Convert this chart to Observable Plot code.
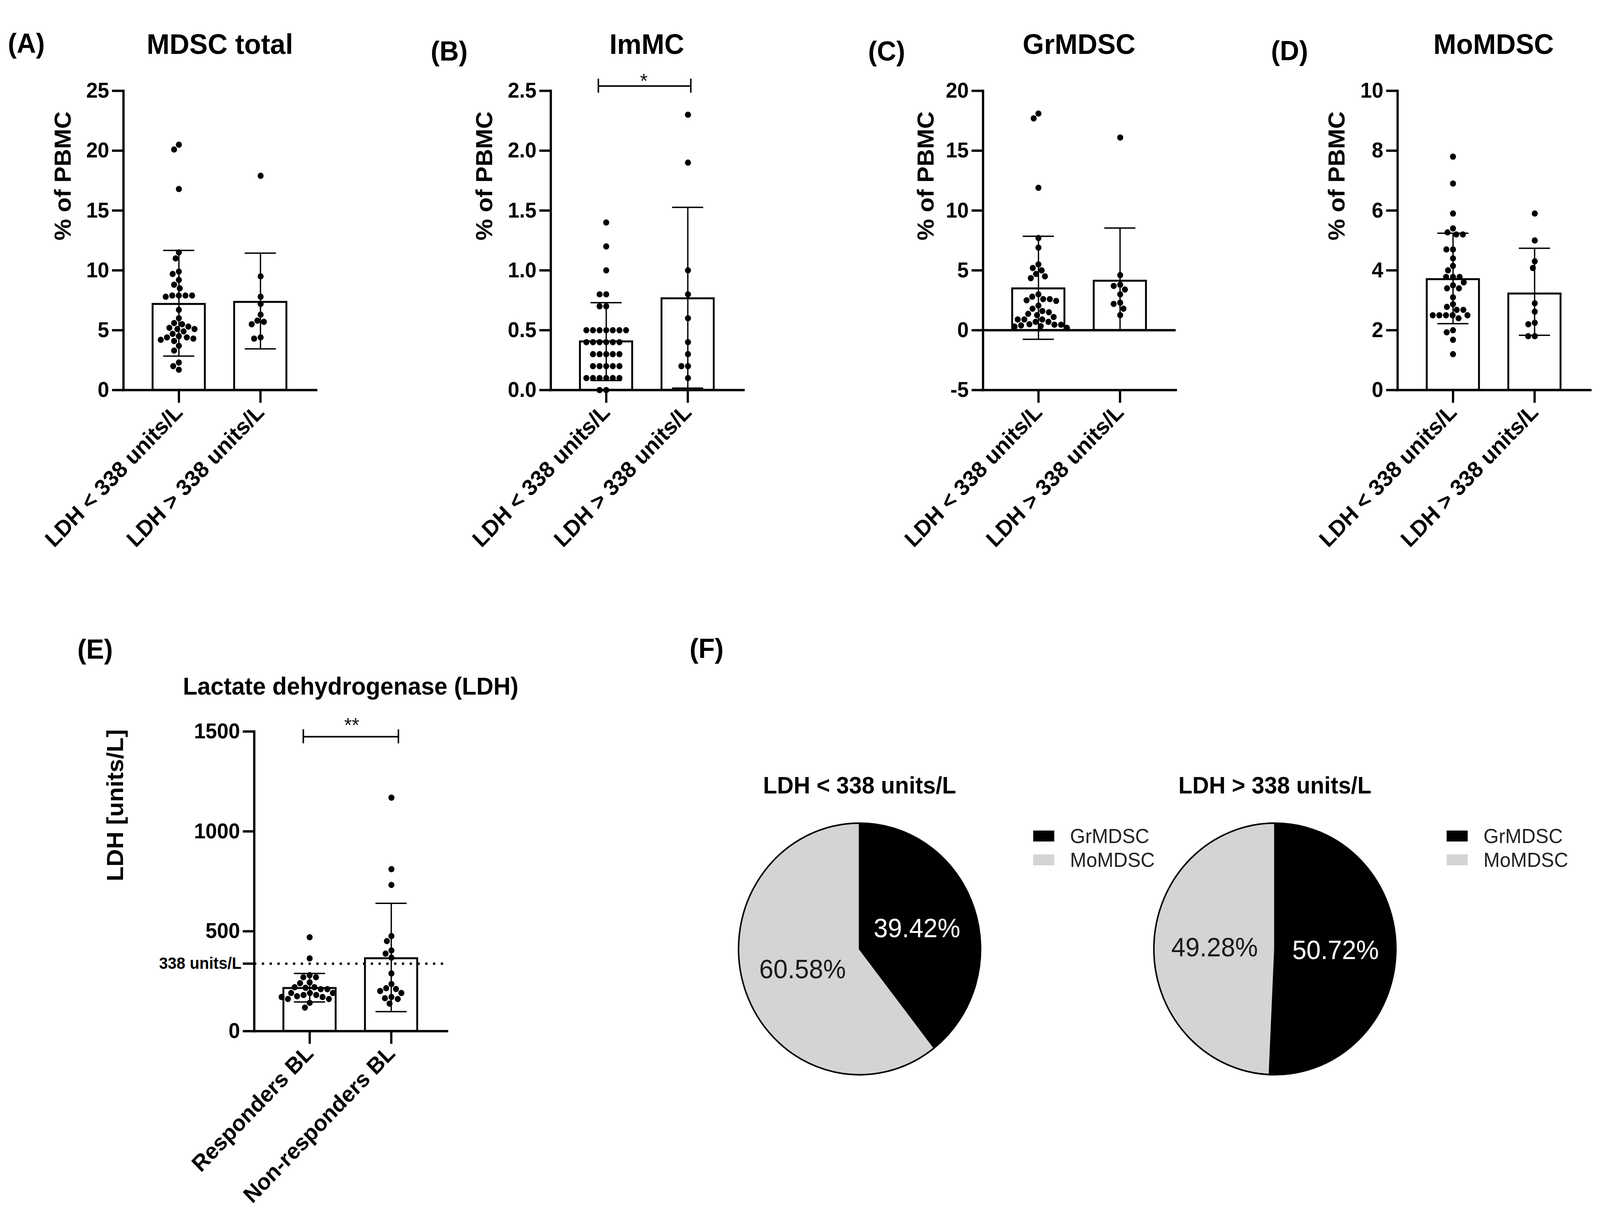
<!DOCTYPE html>
<html>
<head>
<meta charset="utf-8">
<script src="https://cdn.jsdelivr.net/npm/d3@7"></script>
<script src="https://cdn.jsdelivr.net/npm/@observablehq/plot@0.6"></script>
<style>
html, body { margin: 0; padding: 0; background: #ffffff; overflow: hidden; }
#fig { position: relative; width: 4257px; height: 3128px; overflow: hidden; background: #ffffff;
  font-family: "Liberation Sans", Arial, Helvetica, sans-serif; color: #000; transform-origin: 0 0; }
.t { position: absolute; transform: translate(-50%, -50%); white-space: nowrap; line-height: 1; }
.l { position: absolute; transform: translate(0, -50%); white-space: nowrap; line-height: 1; }
.sw { position: absolute; }
</style>
</head>
<body>
<div id="fig"></div>
<script>
// ---------------- DATA ----------------
const panelLetters = ["(A)", "(B)", "(C)", "(D)", "(E)", "(F)"];
const panelTitles = ["MDSC total", "ImMC", "GrMDSC", "MoMDSC"];
const ldhGroups = ["LDH < 338 units/L", "LDH > 338 units/L"];
const responseGroups = ["Responders BL", "Non-responders BL"];
const yLabelPBMC = "% of PBMC";
const yLabelLDH = "LDH [units/L]";
const titleLDH = "Lactate dehydrogenase (LDH)";
const ldhThreshold = 338;
const ldhThresholdLabel = "338 units/L";

// (A) MDSC total, % of PBMC
const mdscLow = [20.5, 20.1, 16.8, 11.5, 11.0, 9.9, 9.7, 9.2, 8.8, 8.5, 7.9, 7.9, 7.9, 7.9, 7.8, 6.7, 6.0, 5.6, 5.5, 5.3, 5.2, 5.1, 5.1, 4.9, 4.7, 4.5, 4.4, 4.4, 4.3, 4.2, 4.1, 3.7, 3.3, 2.3, 2.0, 1.7];
const mdscHigh = [17.9, 9.5, 7.8, 7.2, 6.3, 5.8, 5.7, 5.5, 4.4, 4.3];
const mdscMean = [7.18, 7.35];
const mdscErrLow = [2.84, 3.44];
const mdscErrHigh = [11.67, 11.44];
const mdscTicks = [0, 5, 10, 15, 20, 25];

// (B) ImMC
const immcLow = [1.4, 1.2, 1.0, 0.8, 0.8, 0.7, 0.7, 0.5, 0.5, 0.5, 0.5, 0.5, 0.5, 0.5, 0.4, 0.4, 0.4, 0.4, 0.4, 0.4, 0.3, 0.3, 0.3, 0.3, 0.3, 0.2, 0.2, 0.2, 0.2, 0.2, 0.1, 0.1, 0.1, 0.1, 0.1, 0.1, 0.0, 0.0];
const immcHigh = [2.3, 1.9, 1.0, 0.8, 0.6, 0.4, 0.3, 0.2, 0.2, 0.1];
const immcMean = [0.405, 0.765];
const immcErrLow = [0.08, 0.016];
const immcErrHigh = [0.73, 1.527];
const immcTicks = [0, 0.5, 1.0, 1.5, 2.0, 2.5];
const immcSignif = "*";

// (C) GrMDSC
const grLow = [18.1, 17.7, 11.9, 7.7, 6.9, 5.5, 5.2, 5.0, 4.7, 4.5, 4.35, 3.0, 2.8, 2.6, 2.6, 2.5, 2.45, 2.06, 1.8, 1.6, 1.5, 1.37, 1.26, 1.1, 0.9, 0.9, 0.9, 0.7, 0.7, 0.5, 0.46, 0.46, 0.4, 0.34, 0.3, 0.2];
const grHigh = [16.1, 4.6, 3.8, 3.7, 3.4, 3.0, 2.3, 2.2, 1.8, 1.26];
const grMean = [3.48, 4.12];
const grErrLow = [-0.76, 0];
const grErrHigh = [7.85, 8.54];
const grTicks = [-5, 0, 5, 10, 15, 20];

// (D) MoMDSC
const moLow = [7.8, 6.9, 5.9, 5.4, 5.27, 5.2, 5.2, 4.7, 4.7, 4.4, 4.15, 4.0, 3.78, 3.78, 3.78, 3.6, 3.5, 3.4, 3.4, 3.1, 2.87, 2.78, 2.68, 2.68, 2.5, 2.5, 2.5, 2.5, 2.5, 2.4, 2.0, 1.93, 1.68, 1.2];
const moHigh = [5.9, 5.0, 4.3, 4.08, 2.9, 2.62, 2.25, 2.2, 1.8, 1.8];
const moMean = [3.70, 3.22];
const moErrLow = [2.22, 1.83];
const moErrHigh = [5.24, 4.74];
const moTicks = [0, 2, 4, 6, 8, 10];

// (E) LDH units/L
const ldhResponders = [470, 364, 280, 270, 270, 244, 240, 220, 217, 210, 220, 210, 191, 181, 181, 191, 175, 171, 191, 161, 161, 171, 142, 118];
const ldhNonResponders = [1169, 811, 732, 476, 451, 404, 388, 368, 289, 236, 215, 211, 191, 201, 171, 165, 161, 138];
const ldhMean = [215, 364];
const ldhErrLow = [146, 98];
const ldhErrHigh = [289, 640];
const ldhTicks = [0, 500, 1000, 1500];
const ldhSignif = "**";

// (F) pies
const pieTitles = ["LDH < 338 units/L", "LDH > 338 units/L"];
const pieNames = ["GrMDSC", "MoMDSC"];
const pieLowShare = [39.42, 60.58];
const pieHighShare = [50.72, 49.28];
const pieColors = ["#000000", "#d4d4d4"];
const pieTextColors = ["#ffffff", "#1a1a1a"];

// ---------------- LAYOUT ----------------
const FONT = '"Liberation Sans", Arial, Helvetica, sans-serif';
const fig = document.getElementById("fig");
// fit the 4257x3128 figure into the actual viewport
const sx = window.innerWidth / 4257, sy = window.innerHeight / 3128;
if (sx > 0 && sy > 0 && (Math.abs(sx - 1) > 0.002 || Math.abs(sy - 1) > 0.002)) {
  fig.style.transform = `scale(${sx}, ${sy})`;
}

function html(cls, text, x, y, size, weight, color) {
  const d = document.createElement("div");
  d.className = cls;
  d.textContent = text;
  d.style.left = x + "px";
  d.style.top = y + "px";
  d.style.fontSize = size + "px";
  d.style.fontWeight = weight;
  if (color) d.style.color = color;
  fig.appendChild(d);
  return d;
}
function place(el, left, top) {
  el.style.position = "absolute";
  el.style.left = left + "px";
  el.style.top = top + "px";
  fig.appendChild(el);
}

const FW = 513;      // frame width of each bar panel
const PAD = 0.358;   // band padding

function barPanel(o) {
  const ml = o.ml, mr = 20, mt = 90, mb = 500;
  const fh = o.fh;
  const W = ml + FW + mr, H = mt + fh + mb;
  const xOpts = {type: "band", domain: o.cats, padding: PAD, align: 0.5};
  const xs = Plot.scale({x: {...xOpts, range: [ml, ml + FW]}});
  const mid = ml + FW / 2;
  const bars = o.cats.map((c, i) => ({cat: c, mean: o.mean[i], lo: o.lo[i], hi: o.hi[i]}));
  // dodge positions are relative to the frame middle; the band scale adds half a bandwidth to dots
  const dotMarks = o.groups.map((vals, i) =>
    Plot.dot(vals.map(v => ({v})), Plot.dodgeX(
      {anchor: "middle", padding: 1.6},
      {y: "v", r: 8, fill: "black", stroke: "none",
       dx: xs.apply(o.cats[i]) - mid}
    ))
  );
  const marks = [
    Plot.barY(bars, {x: "cat", y: "mean", fill: "white", stroke: "black", strokeWidth: 5}),
    ...(o.under || []),
    ...dotMarks,
    Plot.ruleX(bars, {x: "cat", y1: "lo", y2: "hi", stroke: "black", strokeWidth: 3.5}),
    Plot.tickY(bars, {x: "cat", y: "hi", stroke: "black", strokeWidth: 3.5, insetLeft: 28, insetRight: 28}),
    Plot.tickY(bars, {x: "cat", y: "lo", stroke: "black", strokeWidth: 3.5, insetLeft: 28, insetRight: 28}),
    ...(o.extra || []),
    Plot.frame({anchor: "left", stroke: "black", strokeWidth: 6}),
    Plot.frame({anchor: "bottom", stroke: "black", strokeWidth: 6}),
    Plot.axisY({ticks: o.ticks, tickFormat: o.fmt, tickSize: 30, tickPadding: 8, fontSize: 55,
      fontWeight: "bold", stroke: "black", strokeWidth: 6, label: null}),
    Plot.axisX({tickSize: 33, tickPadding: 14, tickRotate: -45, fontSize: 58, fontWeight: "bold",
      stroke: "black", strokeWidth: 6, label: null}),
    Plot.text([o.ylabel], {text: d => d, frameAnchor: "left", rotate: -90, dx: -o.ylabelOffset,
      fontSize: 62, fontWeight: "bold", fill: "black"})
  ];
  const svg = Plot.plot({
    width: W, height: H,
    marginLeft: ml, marginRight: mr, marginTop: mt, marginBottom: mb,
    x: {...xOpts},
    y: {domain: o.ydomain, label: null},
    style: {fontFamily: FONT, background: "transparent", overflow: "visible", color: "black"},
    marks
  });
  place(svg, o.frameLeft - ml, o.frameTop - mt);
  return svg;
}

// Panel A
barPanel({cats: ldhGroups, groups: [mdscLow, mdscHigh], mean: mdscMean, lo: mdscErrLow, hi: mdscErrHigh,
  ticks: mdscTicks, fmt: d => String(d), ydomain: [0, 25], ylabel: yLabelPBMC,
  frameLeft: 328, frameTop: 231.5, fh: 766, ml: 300, ylabelOffset: 160});

// Panel B with significance bracket
const bBracket = [{a: ldhGroups[0], b: ldhGroups[1]}];
barPanel({cats: ldhGroups, groups: [immcLow, immcHigh], mean: immcMean, lo: immcErrLow, hi: immcErrHigh,
  ticks: immcTicks, fmt: d3.format(".1f"), ydomain: [0, 2.5], ylabel: yLabelPBMC,
  frameLeft: 1465, frameTop: 231.5, fh: 766, ml: 300, ylabelOffset: 176,
  extra: [
    Plot.ruleY(bBracket, {y: () => 2.54, x1: "a", x2: "b", insetLeft: 49, insetRight: 62, stroke: "black", strokeWidth: 4}),
    Plot.ruleX(bBracket, {x: "a", y1: () => 2.483, y2: () => 2.6, dx: -21, stroke: "black", strokeWidth: 4}),
    Plot.ruleX(bBracket, {x: "b", y1: () => 2.483, y2: () => 2.6, dx: 8, stroke: "black", strokeWidth: 4}),
    Plot.text(bBracket, {x: "a", y: () => 2.58, text: () => immcSignif, dx: 100, fontSize: 52, fill: "#111"})
  ]});

// Panel C with zero line
barPanel({cats: ldhGroups, groups: [grLow, grHigh], mean: grMean, lo: grErrLow, hi: grErrHigh,
  ticks: grTicks, fmt: d => String(d), ydomain: [-5, 20], ylabel: yLabelPBMC,
  frameLeft: 2615, frameTop: 231.5, fh: 766, ml: 300, ylabelOffset: 151,
  extra: [Plot.ruleY([0], {stroke: "black", strokeWidth: 6})]});

// Panel D
barPanel({cats: ldhGroups, groups: [moLow, moHigh], mean: moMean, lo: moErrLow, hi: moErrHigh,
  ticks: moTicks, fmt: d => String(d), ydomain: [0, 10], ylabel: yLabelPBMC,
  frameLeft: 3718, frameTop: 231.5, fh: 766, ml: 300, ylabelOffset: 161});

// Panel E
const eBracket = [{a: responseGroups[0], b: responseGroups[1]}];
barPanel({cats: responseGroups, groups: [ldhResponders, ldhNonResponders], mean: ldhMean, lo: ldhErrLow, hi: ldhErrHigh,
  ticks: ldhTicks, fmt: d => String(d), ydomain: [0, 1500], ylabel: yLabelLDH,
  frameLeft: 676, frameTop: 1872, fh: 767, ml: 450, ylabelOffset: 369,
  under: [Plot.ruleY([ldhThreshold], {stroke: "black", strokeWidth: 6, strokeDasharray: "6,14.7"})],
  extra: [
    Plot.axisY({ticks: [ldhThreshold], tickFormat: () => ldhThresholdLabel, tickSize: 30, tickPadding: 4,
      fontSize: 42, fontWeight: "bold", stroke: "black", strokeWidth: 6, label: null}),
    Plot.ruleY(eBracket, {y: () => 1474, x1: "a", x2: "b", insetLeft: 54, insetRight: 51, stroke: "black", strokeWidth: 4}),
    Plot.ruleX(eBracket, {x: "a", y1: () => 1440, y2: () => 1510, dx: -17, stroke: "black", strokeWidth: 4}),
    Plot.ruleX(eBracket, {x: "b", y1: () => 1440, y2: () => 1510, dx: 19, stroke: "black", strokeWidth: 4}),
    Plot.text(eBracket, {x: "a", y: () => 1530, text: () => ldhSignif, dx: 112, fontSize: 52, fill: "#111"})
  ]});

// Titles and letters
html("t", panelLetters[0], 70, 110, 71, "bold");
html("t", panelLetters[1], 1195, 130, 71, "bold");
html("t", panelLetters[2], 2359, 130, 71, "bold");
html("t", panelLetters[3], 3431, 129, 71, "bold");
html("t", panelLetters[4], 253, 1661, 71, "bold");
html("t", panelLetters[5], 1880, 1659, 71, "bold");
html("t", panelTitles[0], 585, 112, 73, "bold");
html("t", panelTitles[1], 1721, 112, 73, "bold");
html("t", panelTitles[2], 2871, 112, 73, "bold");
html("t", panelTitles[3], 3974, 112, 73, "bold");
html("t", titleLDH, 933, 1756, 63, "bold");

// ---------------- PIES ----------------
function piePanel(shares, cx, cy, title, legendX) {
  const R = 322, m = 12;
  const data = pieNames.map((name, i) => ({name, value: shares[i], color: pieColors[i]}));
  const arcs = d3.pie().value(d => d.value).sort(null)(data);
  const unitArc = d3.arc().innerRadius(0).outerRadius(1);
  const labels = arcs.map(a => {
    const c = unitArc.centroid(a);
    return {x: c[0], y: -c[1], label: a.data.value.toFixed(2) + "%", name: a.data.name};
  });
  const svg = Plot.plot({
    width: 2 * R + 2 * m, height: 2 * R + 2 * m, margin: m,
    x: {domain: [-1, 1], axis: null},
    y: {domain: [-1, 1], axis: null},
    style: {fontFamily: FONT, background: "transparent", overflow: "visible"},
    marks: [
      (index, scales) => {
        const x0 = scales.x(0), y0 = scales.y(0), r = scales.x(1) - scales.x(0);
        const arc = d3.arc().innerRadius(0).outerRadius(r);
        const g = d3.create("svg:g").attr("transform", `translate(${x0},${y0})`);
        g.selectAll("path").data(arcs).join("path")
          .attr("d", arc)
          .attr("fill", d => d.data.color)
          .attr("stroke", "black")
          .attr("stroke-width", 4)
          .attr("stroke-linejoin", "round");
        return g.node();
      },
      Plot.text(labels.filter(d => d.name === pieNames[0]), {x: "x", y: "y", text: "label", fill: pieTextColors[0], fontSize: 68}),
      Plot.text(labels.filter(d => d.name === pieNames[1]), {x: "x", y: "y", text: "label", fill: pieTextColors[1], fontSize: 68})
    ]
  });
  place(svg, cx - R - m, cy - R - m);
  html("t", title, cx, 2010, 61, "bold");
  pieNames.forEach((name, i) => {
    const sw = document.createElement("div");
    sw.className = "sw";
    sw.style.left = legendX + "px";
    sw.style.top = (2126 + i * 61) + "px";
    sw.style.width = "56px";
    sw.style.height = "28px";
    sw.style.background = pieColors[i];
    fig.appendChild(sw);
    html("l", name, legendX + 98, 2140 + i * 61, 52, "normal", "#222");
  });
}
piePanel(pieLowShare, 2287, 2429, pieTitles[0], 2749);
piePanel(pieHighShare, 3392, 2429, pieTitles[1], 3849);
</script>
</body>
</html>
